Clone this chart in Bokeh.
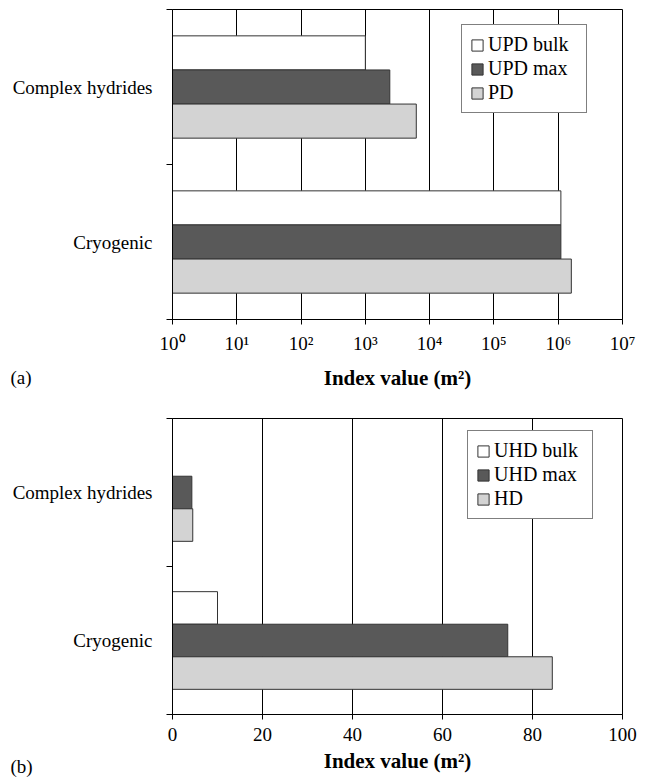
from bokeh.plotting import figure
from bokeh.models import Range1d, FixedTicker, Legend, LegendItem, Label, ColumnDataSource
from bokeh.layouts import column
from bokeh.embed import file_html
from bokeh.resources import INLINE

# ---------------- data ----------------
categories = ["Cryogenic", "Complex hydrides"]          # bottom -> top

series_a = ["UPD bulk", "UPD max", "PD"]
a_upd_bulk = [1.1e6, 1.0e3]
a_upd_max = [1.1e6, 2.4e3]
a_pd = [1.6e6, 6.2e3]
a_ticks = [1, 10, 100, 1000, 10000, 100000, 1000000, 10000000]
a_tick_labels = ["10\u2070", "10\u00b9", "10\u00b2", "10\u00b3", "10\u2074", "10\u2075", "10\u2076", "10\u2077"]

series_b = ["UHD bulk", "UHD max", "HD"]
b_uhd_bulk = [10.0, 0.0]
b_uhd_max = [74.5, 4.3]
b_hd = [84.4, 4.5]
b_ticks = [0, 20, 40, 60, 80, 100]
b_tick_labels = ["0", "20", "40", "60", "80", "100"]

x_label = "Index value (m\u00b2)"
panel_tags = ["(a)", "(b)"]

# ---------------- style ----------------
FONT = "Liberation Serif"
fills = ["#ffffff", "#595959", "#d3d3d3"]
BAR_H = 0.22
offsets = [BAR_H, 0.0, -BAR_H]


def make_panel(series, values, ticks, tick_labels, log, x_start, x_end, height,
               border_top, border_bottom, tag, tag_y, legend_loc,
               label_standoff, axis_standoff):
    p = figure(width=650, height=height,
               x_axis_type="log" if log else "linear",
               x_range=Range1d(x_start, x_end), y_range=Range1d(0, 2),
               output_backend="svg", toolbar_location=None,
               min_border_left=172, min_border_right=28,
               min_border_top=border_top, min_border_bottom=border_bottom)
    p.background_fill_color = "white"
    p.border_fill_color = "white"
    p.outline_line_color = "black"
    p.outline_line_width = 1

    renderers = []
    for k, (name, vals) in enumerate(zip(series, values)):
        ys = [i + 0.5 + offsets[k] for i in range(len(categories))]
        src = ColumnDataSource(dict(y=ys, right=vals, left=[x_start] * len(vals)))
        r = p.hbar(y="y", right="right", left="left", height=BAR_H, source=src,
                   fill_color=fills[k], line_color="#333333", line_width=1)
        renderers.append((name, r))

    # x axis
    xt = FixedTicker(ticks=ticks, minor_ticks=[])
    p.xaxis.ticker = xt
    p.xgrid.ticker = xt
    p.xaxis.major_label_overrides = {float(t): l for t, l in zip(ticks, tick_labels)}
    p.xaxis.axis_line_color = "black"
    p.xaxis.major_tick_line_color = "black"
    p.xaxis.major_tick_out = 5
    p.xaxis.major_tick_in = 0
    p.xaxis.minor_tick_line_color = None
    p.xaxis.major_label_text_font = FONT
    p.xaxis.major_label_text_font_size = "19px"
    p.xaxis.major_label_text_color = "black"
    p.xaxis.major_label_standoff = label_standoff
    p.xaxis.axis_label = x_label
    p.xaxis.axis_label_text_font = FONT
    p.xaxis.axis_label_text_font_style = "bold"
    p.xaxis.axis_label_text_font_size = "21px"
    p.xaxis.axis_label_text_color = "black"
    p.xaxis.axis_label_standoff = axis_standoff

    p.xgrid.grid_line_color = "black"
    p.xgrid.grid_line_width = 1
    p.ygrid.visible = False

    # y axis: category labels at centres, tick marks at boundaries
    yt = FixedTicker(ticks=[i + 0.5 for i in range(len(categories))],
                     minor_ticks=[float(i) for i in range(len(categories) + 1)])
    p.yaxis.ticker = yt
    p.yaxis.major_label_overrides = {i + 0.5: c for i, c in enumerate(categories)}
    p.yaxis.axis_line_color = "black"
    p.yaxis.major_tick_line_color = None
    p.yaxis.major_tick_out = 0
    p.yaxis.major_tick_in = 0
    p.yaxis.minor_tick_line_color = "black"
    p.yaxis.minor_tick_out = 6
    p.yaxis.minor_tick_in = 0
    p.yaxis.major_label_text_font = FONT
    p.yaxis.major_label_text_font_size = "19px"
    p.yaxis.major_label_text_color = "black"
    p.yaxis.major_label_standoff = 14

    legend = Legend(items=[LegendItem(label=n, renderers=[r]) for n, r in renderers],
                    location=legend_loc)
    legend.border_line_color = "black"
    legend.border_line_width = 1.5
    legend.background_fill_color = "white"
    legend.background_fill_alpha = 1.0
    legend.label_text_font = FONT
    legend.label_text_font_size = "20px"
    legend.label_text_color = "black"
    legend.glyph_width = 14
    legend.glyph_height = 14
    legend.label_standoff = 4
    legend.label_height = 20
    legend.label_width = 90
    legend.spacing = 1
    legend.padding = 8
    legend.margin = 0
    p.add_layout(legend, "center")

    # panel tag placed in the right side panel (not clipped), positioned at the far left
    p.add_layout(Label(x=-612, y=tag_y, x_units="screen", y_units="screen", text=tag,
                       text_font=FONT, text_font_size="19px", text_color="black",
                       text_baseline="middle", text_align="left"), "right")
    return p


p_a = make_panel(series_a, [a_upd_bulk, a_upd_max, a_pd], a_ticks, a_tick_labels, True,
                 1, 1e7, 392, 9, 72, panel_tags[0], -58, (289, 206), 8, 9)
p_b = make_panel(series_b, [b_uhd_bulk, b_uhd_max, b_hd], b_ticks, b_tick_labels, False,
                 0, 100, 386, 26, 64, panel_tags[1], -52, (295, 195), 8, 5)

layout = column(p_a, p_b, spacing=0)
open("out.html", "w").write(file_html(layout, INLINE))
